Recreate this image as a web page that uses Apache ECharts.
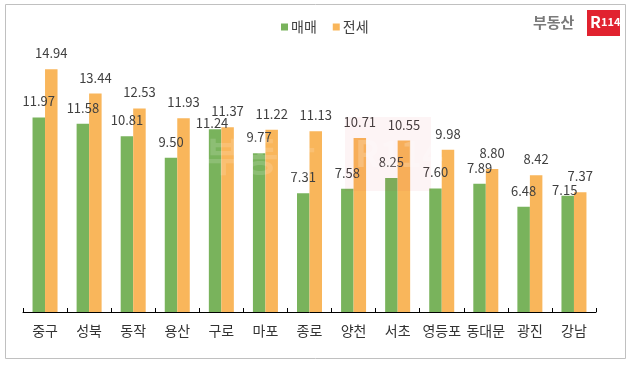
<!DOCTYPE html>
<html>
<head>
<meta charset="utf-8">
<script src="https://cdn.jsdelivr.net/npm/echarts@6/dist/echarts.min.js"></script>
<style>html,body{margin:0;padding:0;background:#fff}#c{width:637px;height:365px}</style>
</head>
<body>
<div id="c"></div>
<script>
const categories = ['중구','성북','동작','용산','구로','마포','종로','양천','서초','영등포','동대문','광진','강남'];
const saleValues = [11.97, 11.58, 10.81, 9.50, 11.24, 9.77, 7.31, 7.58, 8.25, 7.60, 7.89, 6.48, 7.15];
const jeonseValues = [14.94, 13.44, 12.53, 11.93, 11.37, 11.22, 11.13, 10.71, 10.55, 9.98, 8.80, 8.42, 7.37];
const seriesNames = ['매매', '전세'];

const font = '"Noto Sans CJK KR", "Noto Sans", sans-serif';
const chart = echarts.init(document.getElementById('c'), null, {renderer: 'canvas'});

const labelCfg = {
  show: true, position: 'top', distance: 9.5, color: '#404040',
  fontSize: 13, fontFamily: font,
  formatter: p => p.value.toFixed(2)
};

chart.setOption({
  animation: false,
  backgroundColor: '#fff',
  legend: {
    data: seriesNames,
    left: 276, top: 15,
    itemWidth: 7, itemHeight: 7, itemGap: 16,
    icon: 'rect',
    textStyle: {fontSize: 14, color: '#404040', fontFamily: font, padding: [0,0,0,-2]}
  },
  grid: {left: 23, right: 41, top: 52, bottom: 53, containLabel: false},
  xAxis: {
    type: 'category', data: categories,
    axisLine: {lineStyle: {color: '#000', width: 1}},
    axisTick: {show: true, inside: true, length: 4, lineStyle: {color: '#000'}},
    axisLabel: {color: '#333', fontSize: 14, fontFamily: font, margin: 12, interval: 0}
  },
  yAxis: {type: 'value', min: 0, max: 16, show: false, splitLine: {show: false}},
  series: [
    {name: seriesNames[0], type: 'bar', data: saleValues, barWidth: 12.5, barGap: '0%',
     itemStyle: {color: '#79B35C'}, label: labelCfg,
     labelLayout: p => Math.abs(jeonseValues[p.dataIndex] - saleValues[p.dataIndex]) < 0.4 ? {dy: 10, dx: -3} : {}},
    {name: seriesNames[1], type: 'bar', data: jeonseValues, barWidth: 12.5,
     itemStyle: {color: '#F9B65B'}, label: labelCfg}
  ],
  graphic: [
    {type: 'rect', shape: {x: 5.5, y: 4.5, width: 620, height: 354}, style: {fill: 'none', stroke: '#c0c0c0', lineWidth: 1}, z: 0, silent: true},
    // watermark
    {type: 'rect', shape: {x: 345, y: 117, width: 86, height: 74}, style: {fill: 'rgba(225,30,50,0.05)'}, z: 100, silent: true},
    {type: 'text', left: 205, top: 136, style: {text: '부동산', font: 'bold 40px ' + font, fill: 'rgba(255,255,255,0.15)'}, z: 100, silent: true},
    {type: 'text', left: 355, top: 135, style: {text: 'R114', font: 'bold 36px ' + font, fill: 'rgba(255,255,255,0.2)'}, z: 100, silent: true},
    // logo
    {type: 'text', left: 533, top: 15, style: {text: '부동산', font: 'bold 15px ' + font, fill: '#7a7a7a'}, z: 100},
    {type: 'rect', shape: {x: 587, y: 10, width: 33, height: 26}, style: {fill: '#E1222F'}, z: 100},
    {type: 'text', left: 590, top: 14, style: {text: '{a|R}{b|114}', rich: {a: {font: 'bold 16px ' + font, fill: '#fff'}, b: {font: 'bold 11px ' + font, fill: '#fff'}}}, z: 101}
  ]
});
</script>
</body>
</html>
